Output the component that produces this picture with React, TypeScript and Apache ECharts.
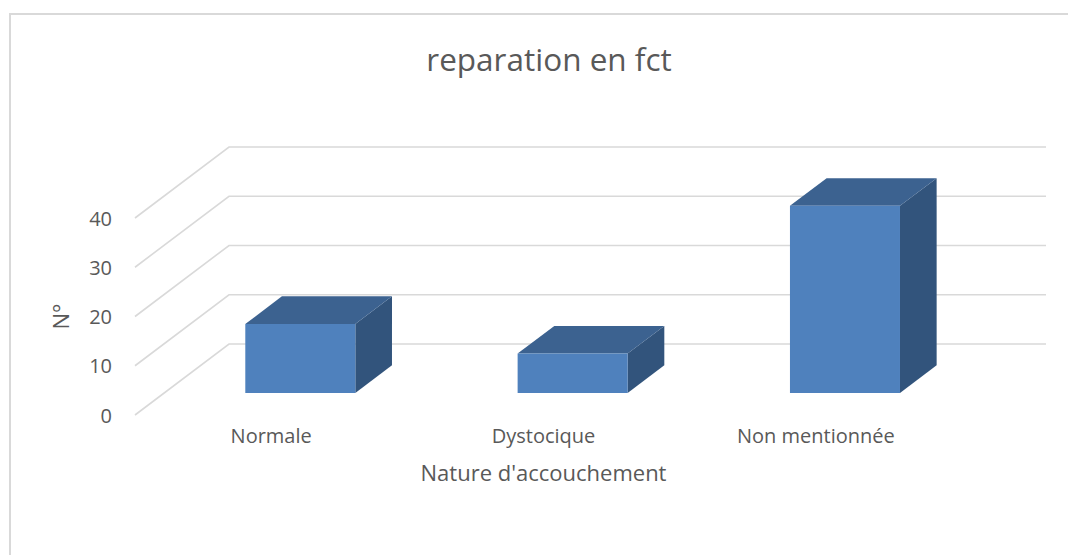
import React, { useEffect, useRef } from "react";
import * as echarts from "echarts";

const categories = ["Normale", "Dystocique", "Non mentionnée"];
const values = [14, 8, 38];
const yTicks = [0, 10, 20, 30, 40];
const titleText = "reparation en fct";
const xAxisTitle = "Nature d'accouchement";
const yAxisTitle = "N°";

const DX = 94;
const DY = 71;
const F1 = 0.31;
const F2 = 0.7;
const BAR_FRAC = 0.404;

const FONT = "Open Sans";
const TXT = "#595959";
const GRID = "#d9d9d9";

export default function App() {
  const ref = useRef<HTMLDivElement>(null);
  useEffect(() => {
    if (!ref.current) return;
    const chart = echarts.init(ref.current, null, { renderer: "svg" });
    const option: any = {
      animation: false,
      backgroundColor: "#ffffff",
      title: {
        text: titleText,
        left: 544,
        textAlign: "center",
        top: 37,
        textStyle: { color: TXT, fontSize: 31.5, fontWeight: "normal", fontFamily: FONT },
      },
      graphic: [
        {
          type: "rect",
          shape: { x: 10, y: 14, width: 1100, height: 600 },
          style: { fill: "none", stroke: GRID, lineWidth: 2 },
          silent: true,
          z: -10,
        },
      ],
      grid: { left: 135, right: 116, top: 218, bottom: 140 },
      xAxis: {
        type: "category",
        data: categories,
        axisLine: { show: false },
        axisTick: { show: false },
        splitLine: { show: false },
        axisLabel: { color: TXT, fontSize: 20, fontFamily: FONT, margin: 10 },
        name: xAxisTitle,
        nameLocation: "middle",
        nameGap: 46,
        nameTextStyle: { color: TXT, fontSize: 22, fontFamily: FONT },
      },
      yAxis: {
        type: "value",
        min: 0,
        max: 40,
        interval: 10,
        axisLine: { show: false },
        axisTick: { show: false },
        splitLine: { show: false },
        axisLabel: { color: TXT, fontSize: 20, fontFamily: FONT, margin: 23 },
        name: yAxisTitle,
        nameLocation: "middle",
        nameGap: 64,
        nameRotate: 90,
        nameTextStyle: { color: TXT, fontSize: 22, fontFamily: FONT },
      },
      series: [
        {
          type: "custom",
          silent: true,
          z: 1,
          data: yTicks.map((t) => [0, t]),
          encode: { x: 0, y: 1 },
          renderItem: (params: any, api: any) => {
            const cs = params.coordSys;
            const y = api.coord([0, api.value(1)])[1];
            const x0 = cs.x;
            const x1 = cs.x + cs.width;
            return {
              type: "polyline",
              shape: {
                points: [
                  [x0, y],
                  [x0 + DX, y - DY],
                  [x1 + DX, y - DY],
                ],
              },
              style: { stroke: GRID, lineWidth: 1.6, fill: "none" },
            };
          },
        },
        {
          type: "custom",
          z: 2,
          data: values.map((v, i) => [i, v]),
          encode: { x: 0, y: 1 },
          renderItem: (params: any, api: any) => {
            const i = api.value(0);
            const v = api.value(1);
            const base = api.coord([i, 0]);
            const topY = api.coord([i, v])[1];
            const h = base[1] - topY;
            const bw = api.size([1, 0])[0] * BAR_FRAC;
            const cx = base[0] + F1 * DX;
            const fb = base[1] - F1 * DY;
            const ft = fb - h;
            const fl = cx - bw / 2;
            const fr = cx + bw / 2;
            const ddx = (F2 - F1) * DX;
            const ddy = (F2 - F1) * DY;
            return {
              type: "group",
              children: [
                {
                  type: "polygon",
                  shape: { points: [[fr, ft], [fr + ddx, ft - ddy], [fr + ddx, fb - ddy], [fr, fb]] },
                  style: { fill: "#32547c" },
                },
                {
                  type: "polygon",
                  shape: { points: [[fl, ft], [fr, ft], [fr + ddx, ft - ddy], [fl + ddx, ft - ddy]] },
                  style: { fill: "#3c6290" },
                },
                {
                  type: "rect",
                  shape: { x: fl, y: ft, width: bw, height: h },
                  style: { fill: "#4f81bd" },
                },
              ],
            };
          },
        },
      ],
    };
    chart.setOption(option);
    return () => chart.dispose();
  }, []);
  return (
    <div
      ref={ref}
      style={{ position: "fixed", left: 0, top: 0, width: 1068, height: 555 }}
    />
  );
}
